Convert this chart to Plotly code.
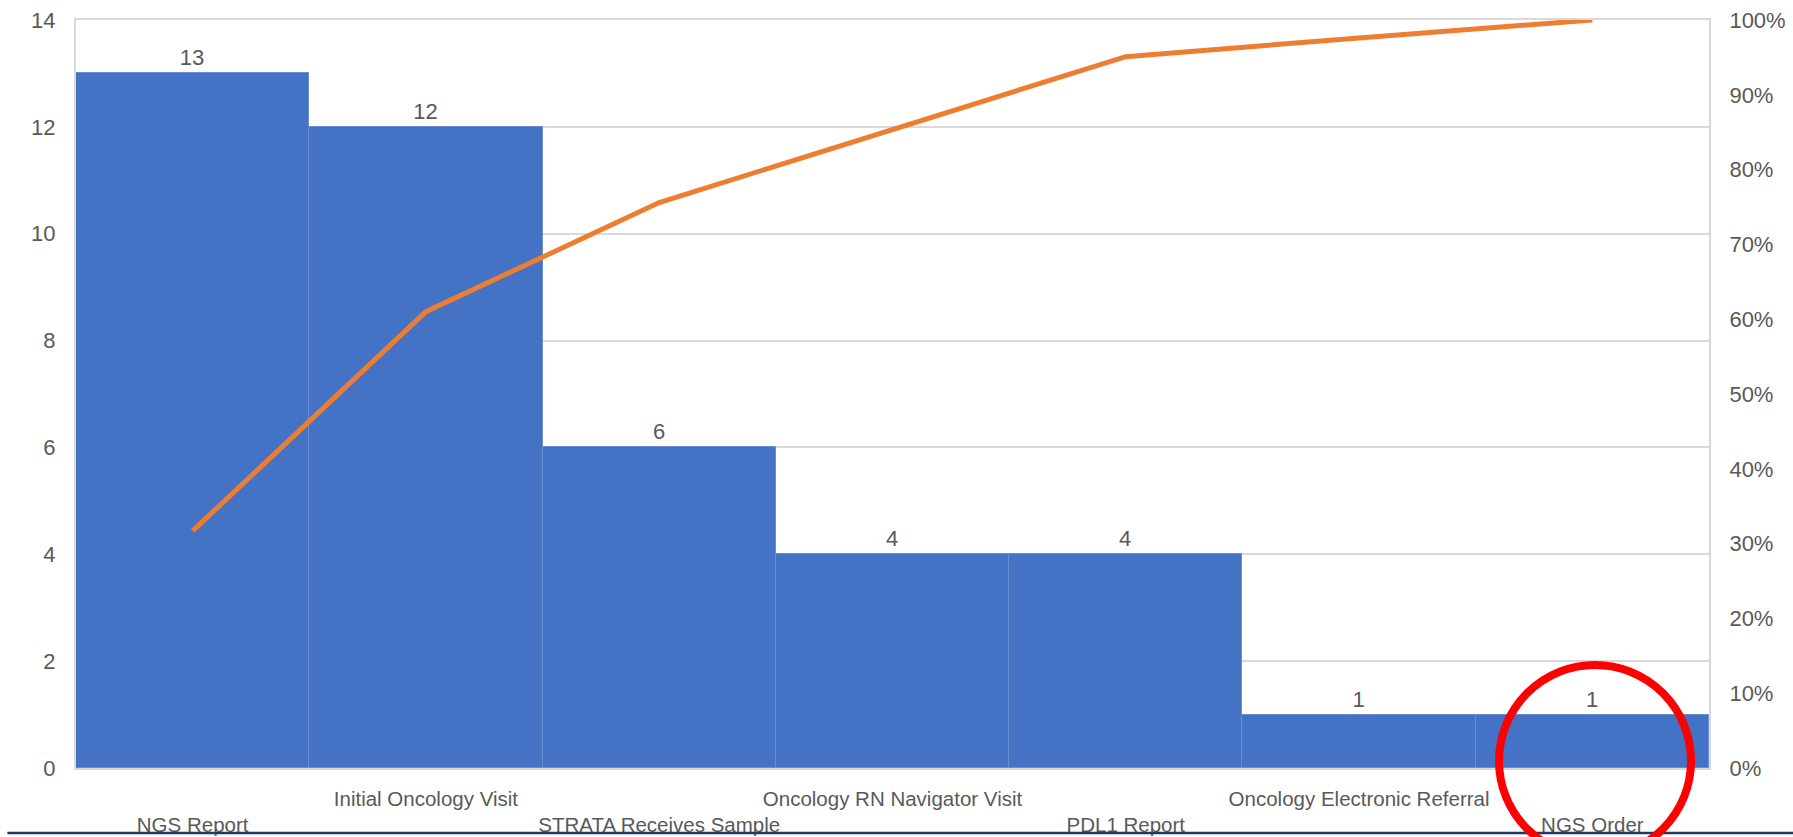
import plotly.graph_objects as go

categories = ["NGS Report", "Initial Oncology Visit", "STRATA Receives Sample",
              "Oncology RN Navigator Visit", "PDL1 Report",
              "Oncology Electronic Referral", "NGS Order"]
counts = [13, 12, 6, 4, 4, 1, 1]
cumulative_pct = [0.317, 0.610, 0.756, 0.854, 0.951, 0.976, 1.0]
left_ticks = [0, 2, 4, 6, 8, 10, 12, 14]
right_ticks = [0, 0.1, 0.2, 0.3, 0.4, 0.5, 0.6, 0.7, 0.8, 0.9, 1.0]

# staggered category labels (odd ones on the upper row)
tick_text = [("<br>" + c) if i % 2 == 0 else (c + "<br> ") for i, c in enumerate(categories)]

TXT = "#595959"
FONT = "Liberation Sans, Arial, sans-serif"

fig = go.Figure()
fig.add_trace(go.Bar(
    x=categories, y=counts,
    marker=dict(color="#4472C4", line=dict(color="#6B8CD0", width=1)),
    text=[str(v) for v in counts], textposition="outside",
    textfont=dict(size=22, color=TXT, family=FONT),
    cliponaxis=False, showlegend=False,
))
fig.add_trace(go.Scatter(
    x=categories, y=cumulative_pct, yaxis="y2", mode="lines",
    line=dict(color="#ED7D31", width=5), showlegend=False,
))

fig.update_layout(
    width=1793, height=837,
    margin=dict(l=76, r=84, t=20, b=69, autoexpand=False),
    paper_bgcolor="white", plot_bgcolor="white",
    bargap=0,
    font=dict(family=FONT, color=TXT),
    xaxis=dict(
        tickmode="array", tickvals=categories, ticktext=tick_text,
        tickfont=dict(size=20.5, color=TXT), tickangle=0, automargin=False,
        showline=True, linecolor="#D9D9D9", linewidth=2, mirror=True,
        showgrid=False, ticks="", ticklabelstandoff=11,
        range=[-0.5, 6.5],
    ),
    yaxis=dict(
        range=[0, 14], tickvals=left_ticks, automargin=False,
        tickfont=dict(size=22, color=TXT),
        showgrid=True, gridcolor="#D9D9D9", gridwidth=2,
        showline=True, linecolor="#D9D9D9", linewidth=2,
        zeroline=False, ticks="", ticklabelstandoff=14,
    ),
    yaxis2=dict(
        range=[0, 1], tickvals=right_ticks, tickformat=".0%", automargin=False,
        overlaying="y", side="right",
        tickfont=dict(size=22, color=TXT),
        showgrid=False, zeroline=False,
        showline=True, linecolor="#D9D9D9", linewidth=2,
        ticks="", ticklabelstandoff=14,
    ),
    shapes=[
        dict(type="line", xref="paper", yref="paper",
             x0=-0.042, x1=1.06, y0=-0.087, y1=-0.087,
             line=dict(color="#203864", width=2.5)),
        dict(type="circle", xref="paper", yref="paper",
             x0=0.8714, x1=0.9890, y0=-0.119, y1=0.1377,
             line=dict(color="#FF0000", width=8)),
    ],
)

fig.write_html("out.html")
